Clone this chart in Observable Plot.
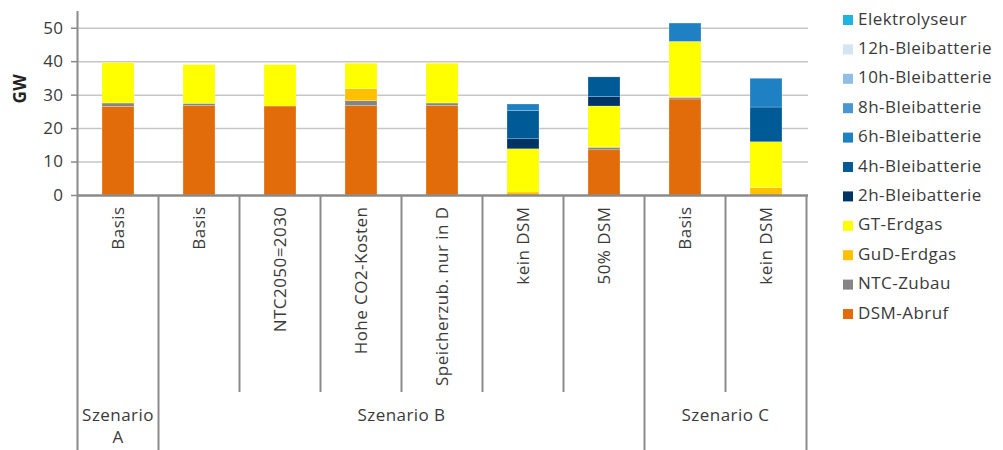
<!DOCTYPE html>
<html>
<head>
<meta charset="utf-8">
<script src="https://cdn.jsdelivr.net/npm/d3@7"></script>
<script src="https://cdn.jsdelivr.net/npm/@observablehq/plot@0.6"></script>
<style>
  html, body { margin: 0; padding: 0; background: #fff; }
  #chart { position: relative; width: 1003px; height: 450px; }
  svg { font-family: "Open Sans", sans-serif; }
  svg text { letter-spacing: 0.45px; }
</style>
</head>
<body>
<div id="chart"></div>
<script>
// ---- Data ----
const categories = ["Basis", "Basis", "NTC2050=2030", "Hohe CO2-Kosten", "Speicherzub. nur in D", "kein DSM", "50% DSM", "Basis", "kein DSM"];
const scenarioOf = ["A", "B", "B", "B", "B", "B", "B", "C", "C"];
const scenarioGroups = [
  {name: "A", lines: ["Szenario", "A"], from: 0, to: 0},
  {name: "B", lines: ["Szenario B"], from: 1, to: 6},
  {name: "C", lines: ["Szenario C"], from: 7, to: 8}
];

// stacking order bottom -> top
const seriesNames = ["DSM-Abruf", "NTC-Zubau", "GuD-Erdgas", "GT-Erdgas", "2h-Bleibatterie", "4h-Bleibatterie", "6h-Bleibatterie", "8h-Bleibatterie", "10h-Bleibatterie", "12h-Bleibatterie", "Elektrolyseur"];
const seriesColors = ["#e36c0a", "#858585", "#ffc000", "#ffff00", "#003366", "#005a96", "#1f80c3", "#4a96d3", "#8fbde3", "#d3e5f4", "#1fb4e0"];

const dsm    = [26.5, 26.7, 26.6, 26.7, 26.7, 0,    13.5, 28.7, 0];
const ntc    = [1.0,  0.7,  0,    1.5,  0.8,  0,    0.6,  0.4,  0];
const gud    = [0,    0,    0,    3.6,  0,    0.9,  0.3,  0.4,  2.2];
const gt     = [12.1, 11.6, 12.4, 7.6,  11.9, 12.9, 12.2, 16.4, 13.7];
const h2     = [0,    0,    0,    0,    0,    3.0,  2.8,  0,    0];
const h4     = [0,    0,    0,    0,    0,    8.4,  5.9,  0,    10.4];
const h6     = [0,    0,    0,    0,    0,    2.0,  0,    5.5,  8.6];
const h8     = [0,    0,    0,    0,    0,    0,    0,    0,    0];
const h10    = [0,    0,    0,    0,    0,    0,    0,    0,    0];
const h12    = [0,    0,    0,    0,    0,    0,    0,    0,    0];
const elektro= [0,    0,    0,    0,    0,    0,    0,    0,    0];
const seriesValues = [dsm, ntc, gud, gt, h2, h4, h6, h8, h10, h12, elektro];

const yTicks = [0, 10, 20, 30, 40, 50];

// ---- Build table ----
const keys = categories.map((c, i) => scenarioOf[i] + "|" + c);
const keyLabel = new Map(keys.map((k, i) => [k, categories[i]]));
const rows = [];
seriesNames.forEach((s, si) => {
  seriesValues[si].forEach((v, ci) => {
    if (v > 0) rows.push({key: keys[ci], series: s, value: v});
  });
});

const W = 1003, H = 450;
const axisGray = "#8a8a8a";
const textColor = "#3a3a3a";
const FS = 17;

const plot = Plot.plot({
  width: W,
  height: H,
  marginLeft: 77,
  marginRight: 195,
  marginTop: 11,
  marginBottom: 255,
  style: {fontFamily: "'Open Sans', sans-serif", fontSize: FS + "px", color: textColor, background: "#fff"},
  x: {type: "band", domain: keys, paddingInner: 0.6, paddingOuter: 0.3},
  y: {domain: [0, 55]},
  color: {domain: seriesNames, range: seriesColors},
  marks: [
    Plot.gridY(yTicks.slice(1), {stroke: "#c6c6c6", strokeOpacity: 1, strokeWidth: 1.5}),
    Plot.barY(rows, Plot.stackY({order: seriesNames}, {x: "key", y: "value", fill: "series", stroke: "#fff", strokeWidth: 0.4, strokeOpacity: 0.6})),
    Plot.axisY({ticks: yTicks, tickSize: 6, tickPadding: 8, fontSize: FS, stroke: axisGray, strokeWidth: 1.5, label: null, fill: textColor}),
    Plot.axisX({tickSize: 0, tickPadding: 11, tickRotate: -90, textAnchor: "end", fontSize: FS, label: null, fill: textColor, tickFormat: k => keyLabel.get(k)}),
    Plot.ruleY([0], {stroke: axisGray, strokeWidth: 2.5}),
    Plot.text(["GW"], {frameAnchor: "left", rotate: -90, dx: -57, fontWeight: "bold", fontSize: 17, fill: "#222"})
  ]
});

document.getElementById("chart").appendChild(plot);

// ---- Decorations using the plot's scales ----
const xs = plot.scale("x");
const ys = plot.scale("y");
const step = xs.step;
const x0 = xs.apply(keys[0]) + xs.bandwidth / 2 - step / 2;
const boundary = i => x0 + i * step;
const svg = d3.select(plot);
const deco = svg.append("g");

const groupEdges = new Set([0]);
scenarioGroups.forEach(g => { groupEdges.add(g.from); groupEdges.add(g.to + 1); });
const innerBottom = ys.apply(0) + 197;

for (let i = 0; i <= categories.length; i++) {
  const isEdge = groupEdges.has(i);
  deco.append("line")
    .attr("x1", boundary(i)).attr("x2", boundary(i))
    .attr("y1", i === 0 ? ys.apply(55) : ys.apply(0))
    .attr("y2", isEdge ? H : innerBottom)
    .attr("stroke", axisGray).attr("stroke-width", 2);
}

scenarioGroups.forEach(g => {
  const cx = (boundary(g.from) + boundary(g.to + 1)) / 2;
  g.lines.forEach((ln, li) => {
    deco.append("text")
      .attr("x", cx)
      .attr("y", innerBottom + 24 + li * 22)
      .attr("text-anchor", "middle")
      .attr("dominant-baseline", "middle")
      .attr("font-size", FS)
      .attr("fill", textColor)
      .text(ln);
  });
});

// ---- Legend (top to bottom: reverse of stack order) ----
const legend = svg.append("g").attr("text-anchor", "start");
const legendItems = seriesNames.map((s, i) => ({s, c: seriesColors[i]})).reverse();
legendItems.forEach((d, i) => {
  const cy = 20 + i * 29.4;
  legend.append("rect").attr("x", 843).attr("y", cy - 5).attr("width", 10).attr("height", 10).attr("fill", d.c);
  legend.append("text").attr("x", 858).attr("y", cy).attr("dominant-baseline", "middle")
    .attr("text-anchor", "start")
    .attr("font-size", FS).attr("fill", textColor).text(d.s);
});
</script>
</body>
</html>
